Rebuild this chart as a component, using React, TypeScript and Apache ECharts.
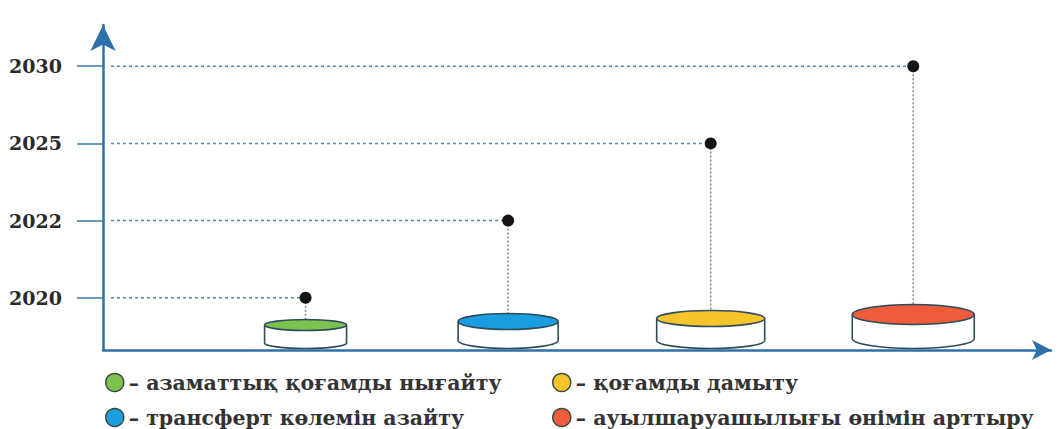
import React, { useEffect, useRef } from "react";
import * as echarts from "echarts";

// ---- data ----
const categories = [
  "азаматтық қоғамды нығайту",
  "трансферт көлемін азайту",
  "қоғамды дамыту",
  "ауылшаруашылығы өнімін арттыру",
];
const yearLabels = ["2020", "2022", "2025", "2030"];
// level index on the (ordinal) year axis for each category
const targetLevel = [0, 1, 2, 3];
// position of each category along the horizontal axis
const categoryPos = [1, 2, 3, 4];

// ---- styles ----
const COLORS = ["#7cc24e", "#1b9ee0", "#f8c42c", "#ee5c3b"];
const CYL_W = [82, 100, 108, 122];
const CYL_RY = [5.5, 8, 8, 10];
const CYL_BODY = [18, 19, 22, 24];
const OUTLINE = "#2e4d5c";
const AXIS = "#2f70a8";
const Y_MIN = -0.676;
const Y_MAX = 3.534;
const X_MIN = 0;
const X_MAX = 4.68;
const FONT = "DejaVu Serif";

export default function App() {
  const ref = useRef<HTMLDivElement>(null);
  useEffect(() => {
    const chart = echarts.init(ref.current!, undefined, { renderer: "svg" });
    const series = categories.map((name, i) => ({
      name,
      type: "custom",
      itemStyle: { color: COLORS[i], borderColor: OUTLINE, borderWidth: 1.5 },
      data: [[categoryPos[i], targetLevel[i]]],
      renderItem: (params: any, api: any) => {
        const xv = api.value(0);
        const lv = api.value(1);
        const dot = api.coord([xv, lv]);
        const base = api.coord([xv, Y_MIN]);
        const axisStart = api.coord([X_MIN, lv]);
        const w = CYL_W[i];
        const ry = CYL_RY[i];
        const bodyH = CYL_BODY[i];
        const cx = dot[0];
        const bottomC = base[1] - 1.5 - ry;
        const topC = bottomC - bodyH;
        return {
          type: "group",
          children: [
            {
              type: "line",
              shape: { x1: axisStart[0] + 8, y1: dot[1], x2: cx, y2: dot[1] },
              style: { stroke: "#4f86bd", lineWidth: 1.5, lineDash: [3, 3] },
            },
            {
              type: "line",
              shape: { x1: cx, y1: dot[1], x2: cx, y2: topC - ry + 1 },
              style: { stroke: "#7a8794", lineWidth: 1.5, lineDash: [2, 2] },
            },
            {
              type: "ellipse",
              shape: { cx, cy: bottomC, rx: w / 2, ry },
              style: { fill: "#ffffff", stroke: OUTLINE, lineWidth: 1.6 },
            },
            {
              type: "rect",
              shape: { x: cx - w / 2, y: topC, width: w, height: bodyH },
              style: { fill: "#ffffff" },
            },
            {
              type: "line",
              shape: { x1: cx - w / 2, y1: topC, x2: cx - w / 2, y2: bottomC },
              style: { stroke: OUTLINE, lineWidth: 1.6 },
            },
            {
              type: "line",
              shape: { x1: cx + w / 2, y1: topC, x2: cx + w / 2, y2: bottomC },
              style: { stroke: OUTLINE, lineWidth: 1.6 },
            },
            {
              type: "ellipse",
              shape: { cx, cy: topC, rx: w / 2, ry },
              style: { fill: COLORS[i], stroke: OUTLINE, lineWidth: 1.6 },
            },
            {
              type: "circle",
              shape: { cx, cy: dot[1], r: 6 },
              style: { fill: "#141414" },
            },
          ],
        };
      },
    }));

    const legendCommon = {
      orient: "vertical",
      top: 372,
      height: 80,
      padding: 0,
      icon: "circle",
      itemWidth: 18,
      itemHeight: 18,
      itemGap: 14,
      selectedMode: false,
      formatter: (n: string) => "– " + n,
      itemStyle: { borderColor: "#3b4a40", borderWidth: 1.5 },
      textStyle: {
        fontFamily: FONT,
        fontSize: 20.5,
        fontWeight: "bold",
        color: "#333333",
        lineHeight: 20,
      },
    };

    chart.setOption({
      animation: false,
      grid: { left: 103, right: 12, top: 25, bottom: 79 },
      legend: [
        { ...legendCommon, left: 105, data: [categories[0], categories[1]] },
        { ...legendCommon, left: 552, data: [categories[2], categories[3]] },
      ],
      xAxis: {
        type: "value",
        min: X_MIN,
        max: X_MAX,
        axisLine: {
          show: true,
          onZero: false,
          symbol: ["none", "arrow"],
          symbolSize: [15, 19],
          lineStyle: { color: AXIS, width: 2.5 },
        },
        axisTick: { show: false },
        axisLabel: { show: false },
        splitLine: { show: false },
      },
      yAxis: {
        type: "value",
        min: Y_MIN,
        max: Y_MAX,
        axisLine: {
          show: true,
          onZero: false,
          symbol: ["none", "arrow"],
          symbolSize: [19, 26],
          lineStyle: { color: AXIS, width: 2.5 },
        },
        axisTick: {
          show: true,
          length: 26,
          customValues: targetLevel,
          lineStyle: { color: "#3d78aa", width: 1.5 },
        },
        axisLabel: {
          customValues: targetLevel,
          formatter: (v: number) => yearLabels[Math.round(v)] ?? "",
          margin: 41,
          fontFamily: FONT,
          fontSize: 19,
          fontWeight: "bold",
          color: "#2a2a2a",
        },
        splitLine: { show: false },
      },
      series,
    });
    return () => chart.dispose();
  }, []);
  return (
    <div
      ref={ref}
      style={{ position: "fixed", left: 0, top: 0, width: 1063, height: 429, background: "#fff" }}
    />
  );
}
